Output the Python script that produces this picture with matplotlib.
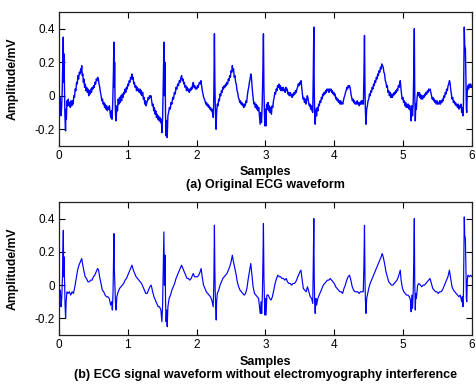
import matplotlib
matplotlib.use('Agg')
import matplotlib.pyplot as plt

plt.rcParams['font.family'] = ['Liberation Sans', 'DejaVu Sans']

# (time, amplitude) samples (noisy) trace
ecg_original = [
    (0.000, -0.03), (0.006, -0.07), (0.012, -0.01), (0.018, -0.08), (0.024, -0.04), (0.030, -0.12),
    (0.038, -0.07), (0.046, 0.02), (0.054, 0.18), (0.062, 0.35), (0.067, 0.08), (0.072, 0.25),
    (0.078, 0.10), (0.086, -0.12), (0.095, -0.21), (0.101, -0.08), (0.107, -0.14), (0.115, -0.03),
    (0.125, -0.06), (0.135, -0.02), (0.145, -0.06), (0.155, -0.04), (0.165, -0.07), (0.175, -0.03),
    (0.185, -0.06), (0.195, -0.03), (0.205, -0.05), (0.215, 0.00), (0.225, -0.01), (0.235, 0.04),
    (0.245, 0.03), (0.255, 0.08), (0.265, 0.07), (0.275, 0.12), (0.285, 0.10), (0.295, 0.14),
    (0.305, 0.13), (0.315, 0.16), (0.322, 0.14), (0.330, 0.18), (0.338, 0.12), (0.346, 0.13),
    (0.354, 0.08), (0.362, 0.10), (0.372, 0.05), (0.382, 0.07), (0.392, 0.03), (0.402, 0.05),
    (0.412, 0.02), (0.422, 0.04), (0.432, 0.00), (0.442, 0.03), (0.452, 0.01), (0.462, 0.04),
    (0.472, 0.02), (0.482, 0.05), (0.492, 0.04), (0.502, 0.06), (0.512, 0.05), (0.522, 0.08),
    (0.532, 0.07), (0.542, 0.10), (0.552, 0.09), (0.562, 0.11), (0.572, 0.10), (0.582, 0.07),
    (0.592, 0.05), (0.602, 0.02), (0.612, 0.00), (0.622, -0.03), (0.632, -0.02), (0.642, -0.05),
    (0.652, -0.04), (0.662, -0.07), (0.672, -0.05), (0.682, -0.08), (0.692, -0.06), (0.702, -0.09),
    (0.712, -0.07), (0.722, -0.08), (0.732, -0.06), (0.742, -0.10), (0.752, -0.13), (0.762, -0.09),
    (0.770, -0.14), (0.780, -0.05), (0.790, 0.12), (0.797, 0.32), (0.803, 0.05), (0.808, 0.20),
    (0.814, -0.02), (0.822, -0.12), (0.830, -0.15), (0.840, -0.06), (0.850, -0.09), (0.860, -0.02),
    (0.870, -0.05), (0.880, -0.01), (0.890, -0.04), (0.900, 0.00), (0.910, -0.03), (0.920, 0.01),
    (0.930, -0.01), (0.940, 0.02), (0.950, 0.01), (0.960, 0.04), (0.970, 0.02), (0.980, 0.05),
    (0.990, 0.04), (1.000, 0.07), (1.010, 0.06), (1.020, 0.09), (1.030, 0.08), (1.040, 0.11),
    (1.050, 0.10), (1.058, 0.13), (1.066, 0.10), (1.076, 0.11), (1.086, 0.07), (1.096, 0.08),
    (1.106, 0.05), (1.116, 0.06), (1.126, 0.03), (1.136, 0.05), (1.146, 0.03), (1.156, 0.04),
    (1.166, 0.02), (1.176, 0.04), (1.186, 0.01), (1.196, 0.03), (1.206, 0.00), (1.216, 0.02),
    (1.226, -0.02), (1.236, -0.01), (1.246, -0.05), (1.256, -0.03), (1.266, -0.06), (1.276, -0.04),
    (1.286, -0.03), (1.296, -0.01), (1.306, -0.02), (1.316, 0.00), (1.326, -0.01), (1.336, 0.00),
    (1.346, -0.03), (1.356, -0.06), (1.366, -0.05), (1.376, -0.09), (1.386, -0.07), (1.396, -0.11),
    (1.406, -0.09), (1.416, -0.13), (1.426, -0.11), (1.436, -0.14), (1.446, -0.12), (1.456, -0.15),
    (1.466, -0.13), (1.476, -0.16), (1.486, -0.14), (1.496, -0.22), (1.506, -0.12), (1.516, 0.10),
    (1.524, 0.32), (1.532, 0.00), (1.540, 0.20), (1.548, -0.12), (1.556, -0.24), (1.564, -0.15),
    (1.572, -0.25), (1.582, -0.12), (1.592, -0.10), (1.604, -0.07), (1.616, -0.08), (1.628, -0.04),
    (1.640, -0.05), (1.652, -0.01), (1.664, -0.02), (1.676, 0.02), (1.688, 0.01), (1.700, 0.05),
    (1.712, 0.04), (1.724, 0.07), (1.736, 0.06), (1.748, 0.09), (1.760, 0.08), (1.772, 0.11),
    (1.782, 0.12), (1.792, 0.09), (1.802, 0.10), (1.812, 0.07), (1.822, 0.08), (1.832, 0.05),
    (1.842, 0.06), (1.852, 0.03), (1.862, 0.05), (1.872, 0.03), (1.882, 0.04), (1.892, 0.02),
    (1.902, 0.04), (1.912, 0.03), (1.922, 0.05), (1.932, 0.04), (1.942, 0.07), (1.952, 0.08),
    (1.962, 0.05), (1.972, 0.06), (1.982, 0.04), (1.992, 0.05), (2.002, 0.04), (2.012, 0.06),
    (2.022, 0.05), (2.032, 0.07), (2.042, 0.08), (2.052, 0.07), (2.062, 0.09), (2.072, 0.06),
    (2.082, 0.03), (2.092, 0.01), (2.102, -0.01), (2.112, -0.02), (2.122, -0.03), (2.132, -0.05),
    (2.142, -0.04), (2.152, -0.06), (2.162, -0.05), (2.172, -0.07), (2.182, -0.06), (2.192, -0.08),
    (2.202, -0.07), (2.212, -0.09), (2.222, -0.08), (2.232, -0.11), (2.242, -0.13), (2.250, 0.02),
    (2.258, 0.37), (2.264, 0.10), (2.270, -0.05), (2.276, -0.13), (2.282, -0.20), (2.290, -0.10),
    (2.300, -0.05), (2.310, -0.06), (2.320, -0.02), (2.330, -0.03), (2.340, 0.01), (2.350, 0.00),
    (2.360, 0.03), (2.370, 0.02), (2.380, 0.05), (2.390, 0.04), (2.400, 0.06), (2.410, 0.05),
    (2.420, 0.07), (2.430, 0.06), (2.440, 0.08), (2.450, 0.07), (2.460, 0.10), (2.470, 0.09),
    (2.480, 0.12), (2.490, 0.11), (2.500, 0.15), (2.510, 0.14), (2.518, 0.18), (2.526, 0.15),
    (2.536, 0.16), (2.546, 0.11), (2.556, 0.12), (2.566, 0.08), (2.576, 0.07), (2.586, 0.03),
    (2.596, 0.02), (2.606, -0.01), (2.616, -0.02), (2.626, -0.04), (2.636, -0.03), (2.646, -0.05),
    (2.656, -0.04), (2.666, -0.06), (2.676, -0.05), (2.686, -0.07), (2.696, -0.05), (2.706, -0.06),
    (2.716, -0.03), (2.726, -0.04), (2.736, 0.00), (2.746, 0.03), (2.756, 0.05), (2.766, 0.08),
    (2.776, 0.10), (2.786, 0.13), (2.794, 0.12), (2.802, 0.07), (2.812, 0.02), (2.822, -0.02),
    (2.832, -0.05), (2.842, -0.04), (2.852, -0.07), (2.862, -0.05), (2.872, -0.08), (2.882, -0.06),
    (2.892, -0.09), (2.902, -0.07), (2.912, -0.12), (2.922, -0.17), (2.932, -0.10), (2.942, -0.16),
    (2.952, -0.05), (2.962, 0.15), (2.970, 0.37), (2.977, 0.05), (2.984, -0.10), (2.990, -0.18),
    (2.998, -0.08), (3.006, -0.18), (3.016, -0.05), (3.026, -0.08), (3.036, -0.04), (3.046, -0.09),
    (3.056, -0.06), (3.066, -0.10), (3.076, -0.07), (3.086, -0.11), (3.096, -0.06), (3.106, -0.07),
    (3.116, -0.03), (3.126, -0.01), (3.136, 0.02), (3.146, 0.01), (3.156, 0.04), (3.166, 0.03),
    (3.176, 0.06), (3.186, 0.05), (3.196, 0.07), (3.206, 0.04), (3.216, 0.06), (3.226, 0.03),
    (3.236, 0.05), (3.246, 0.03), (3.256, 0.05), (3.266, 0.03), (3.276, 0.04), (3.286, 0.02),
    (3.296, 0.05), (3.306, 0.03), (3.316, 0.04), (3.326, 0.01), (3.336, 0.02), (3.346, 0.00),
    (3.356, 0.02), (3.366, 0.00), (3.376, 0.01), (3.386, -0.01), (3.396, 0.01), (3.406, 0.00),
    (3.416, 0.02), (3.426, 0.01), (3.436, 0.03), (3.446, 0.02), (3.456, 0.04), (3.466, 0.05),
    (3.476, 0.07), (3.486, 0.06), (3.496, 0.08), (3.506, 0.07), (3.516, 0.09), (3.526, 0.05),
    (3.536, 0.01), (3.546, -0.02), (3.556, -0.01), (3.566, -0.04), (3.576, -0.02), (3.586, -0.05),
    (3.596, -0.03), (3.606, 0.00), (3.616, -0.01), (3.626, -0.04), (3.636, -0.06), (3.646, -0.05),
    (3.656, -0.08), (3.666, -0.06), (3.676, -0.09), (3.686, -0.10), (3.694, 0.12), (3.702, 0.41),
    (3.708, 0.05), (3.714, -0.10), (3.722, -0.17), (3.732, -0.08), (3.742, -0.12), (3.752, -0.07),
    (3.762, -0.09), (3.772, -0.05), (3.782, -0.06), (3.792, -0.03), (3.802, -0.04), (3.812, -0.01),
    (3.822, -0.02), (3.832, 0.01), (3.842, 0.00), (3.852, 0.02), (3.862, 0.01), (3.872, 0.03),
    (3.882, 0.02), (3.892, 0.04), (3.902, 0.03), (3.912, 0.04), (3.922, 0.02), (3.932, 0.04),
    (3.942, 0.03), (3.952, 0.04), (3.962, 0.02), (3.972, 0.03), (3.982, 0.01), (3.992, 0.02),
    (4.002, 0.00), (4.012, 0.01), (4.022, -0.02), (4.032, -0.01), (4.042, -0.03), (4.052, -0.02),
    (4.062, -0.04), (4.072, -0.03), (4.082, -0.05), (4.092, -0.03), (4.102, -0.05), (4.112, -0.04),
    (4.122, -0.05), (4.132, -0.03), (4.142, -0.01), (4.152, 0.00), (4.162, 0.02), (4.172, 0.03),
    (4.182, 0.05), (4.192, 0.04), (4.202, 0.06), (4.212, 0.05), (4.222, 0.06), (4.232, 0.04),
    (4.242, 0.01), (4.252, -0.01), (4.262, -0.03), (4.272, -0.02), (4.282, -0.04), (4.292, -0.03),
    (4.302, -0.05), (4.312, -0.04), (4.322, -0.05), (4.332, -0.03), (4.342, -0.05), (4.352, -0.04),
    (4.362, -0.06), (4.372, -0.04), (4.382, -0.05), (4.392, -0.03), (4.402, -0.05), (4.412, -0.03),
    (4.422, -0.05), (4.430, 0.12), (4.438, 0.36), (4.446, 0.02), (4.452, -0.10), (4.460, -0.17),
    (4.470, -0.08), (4.480, -0.06), (4.490, -0.03), (4.500, -0.02), (4.510, 0.01), (4.520, 0.00),
    (4.530, 0.03), (4.540, 0.02), (4.550, 0.05), (4.560, 0.04), (4.570, 0.07), (4.580, 0.06),
    (4.590, 0.09), (4.600, 0.08), (4.610, 0.11), (4.620, 0.10), (4.630, 0.13), (4.640, 0.12),
    (4.650, 0.15), (4.660, 0.14), (4.670, 0.17), (4.680, 0.16), (4.690, 0.19), (4.700, 0.18),
    (4.710, 0.17), (4.720, 0.14), (4.730, 0.13), (4.740, 0.09), (4.750, 0.08), (4.760, 0.05),
    (4.770, 0.06), (4.780, 0.02), (4.790, 0.03), (4.800, 0.00), (4.810, 0.02), (4.820, -0.01),
    (4.830, 0.01), (4.840, -0.01), (4.850, 0.01), (4.860, 0.00), (4.870, 0.02), (4.880, 0.01),
    (4.890, 0.03), (4.900, 0.02), (4.910, 0.04), (4.920, 0.03), (4.930, 0.06), (4.940, 0.05),
    (4.950, 0.08), (4.958, 0.09), (4.966, 0.05), (4.976, 0.01), (4.986, -0.02), (4.996, -0.01),
    (5.006, -0.04), (5.016, -0.03), (5.026, -0.06), (5.036, -0.04), (5.046, -0.07), (5.056, -0.05),
    (5.066, -0.07), (5.076, -0.05), (5.086, -0.08), (5.096, -0.06), (5.106, -0.09), (5.116, -0.15),
    (5.126, -0.06), (5.136, -0.12), (5.146, -0.04), (5.154, 0.15), (5.162, 0.40), (5.168, 0.02),
    (5.176, -0.15), (5.184, -0.05), (5.192, -0.08), (5.202, -0.01), (5.212, 0.02), (5.222, 0.00),
    (5.232, 0.02), (5.242, -0.01), (5.252, 0.01), (5.262, -0.02), (5.272, 0.00), (5.282, -0.02),
    (5.292, 0.00), (5.302, -0.01), (5.312, 0.01), (5.322, 0.00), (5.332, 0.02), (5.342, 0.01),
    (5.352, 0.03), (5.362, 0.02), (5.372, 0.04), (5.382, 0.03), (5.392, 0.04), (5.402, 0.02),
    (5.412, 0.00), (5.422, -0.02), (5.432, -0.01), (5.442, -0.03), (5.452, -0.02), (5.462, -0.04),
    (5.472, -0.03), (5.482, -0.05), (5.492, -0.03), (5.502, -0.05), (5.512, -0.04), (5.522, -0.05),
    (5.532, -0.03), (5.542, -0.05), (5.552, -0.03), (5.562, -0.04), (5.572, -0.02), (5.582, -0.03),
    (5.592, 0.00), (5.602, -0.01), (5.612, 0.02), (5.622, 0.01), (5.632, 0.04), (5.642, 0.03),
    (5.652, 0.06), (5.662, 0.07), (5.672, 0.09), (5.680, 0.08), (5.690, 0.04), (5.700, 0.01),
    (5.710, -0.02), (5.720, -0.01), (5.730, -0.04), (5.740, -0.03), (5.750, -0.05), (5.760, -0.04),
    (5.770, -0.06), (5.780, -0.05), (5.790, -0.07), (5.800, -0.05), (5.810, -0.08), (5.820, -0.06),
    (5.830, -0.07), (5.840, -0.05), (5.850, -0.10), (5.860, -0.07), (5.868, -0.12), (5.876, -0.05),
    (5.882, 0.20), (5.888, 0.41), (5.894, 0.30), (5.904, 0.28), (5.912, 0.10), (5.918, -0.08),
    (5.924, -0.10), (5.932, 0.03), (5.940, 0.06), (5.950, 0.04), (5.960, 0.07), (5.970, 0.05),
    (5.980, 0.07), (5.990, 0.05), (6.000, 0.06),
]

# (time, amplitude) samples
ecg_filtered = [
    (0.000, -0.03), (0.010, -0.06), (0.020, -0.03), (0.030, -0.13), (0.040, -0.08), (0.050, 0.05),
    (0.056, 0.20), (0.063, 0.33), (0.068, 0.05), (0.073, 0.17), (0.080, 0.02), (0.088, -0.12),
    (0.096, -0.20), (0.104, -0.10), (0.115, -0.04), (0.13, -0.05), (0.15, -0.04), (0.17, -0.06),
    (0.19, -0.04), (0.21, -0.05), (0.23, -0.01), (0.25, 0.04), (0.27, 0.09), (0.29, 0.12),
    (0.31, 0.14), (0.33, 0.16), (0.345, 0.12), (0.36, 0.09), (0.38, 0.05), (0.40, 0.04),
    (0.42, 0.02), (0.44, 0.02), (0.46, 0.03), (0.48, 0.03), (0.50, 0.05), (0.52, 0.06),
    (0.54, 0.08), (0.56, 0.10), (0.575, 0.09), (0.59, 0.05), (0.61, 0.01), (0.63, -0.03),
    (0.65, -0.04), (0.67, -0.06), (0.69, -0.07), (0.71, -0.07), (0.73, -0.08), (0.75, -0.12),
    (0.765, -0.10), (0.775, -0.15), (0.785, -0.05), (0.792, 0.15), (0.798, 0.31), (0.804, 0.10),
    (0.810, 0.02), (0.820, -0.10), (0.830, -0.15), (0.84, -0.07), (0.86, -0.04), (0.88, -0.02),
    (0.90, -0.01), (0.92, 0.00), (0.94, 0.01), (0.96, 0.03), (0.98, 0.04), (1.00, 0.06),
    (1.02, 0.08), (1.04, 0.10), (1.06, 0.12), (1.08, 0.09), (1.10, 0.07), (1.12, 0.05),
    (1.14, 0.04), (1.16, 0.03), (1.18, 0.02), (1.20, 0.01), (1.22, -0.01), (1.24, -0.03),
    (1.26, -0.05), (1.28, -0.05), (1.30, -0.03), (1.32, -0.01), (1.34, 0.00), (1.36, -0.04),
    (1.38, -0.07), (1.40, -0.09), (1.42, -0.11), (1.44, -0.13), (1.46, -0.13), (1.48, -0.15),
    (1.495, -0.22), (1.505, -0.12), (1.515, 0.10), (1.524, 0.32), (1.532, 0.00), (1.540, 0.18),
    (1.548, -0.10), (1.556, -0.22), (1.564, -0.15), (1.572, -0.25), (1.582, -0.13), (1.60, -0.08),
    (1.62, -0.06), (1.64, -0.03), (1.66, -0.01), (1.68, 0.01), (1.70, 0.04), (1.72, 0.06),
    (1.74, 0.08), (1.76, 0.10), (1.78, 0.12), (1.80, 0.10), (1.82, 0.08), (1.84, 0.06),
    (1.86, 0.04), (1.88, 0.04), (1.90, 0.03), (1.92, 0.04), (1.94, 0.06), (1.95, 0.07),
    (1.97, 0.05), (1.99, 0.05), (2.01, 0.05), (2.03, 0.06), (2.05, 0.08), (2.065, 0.10),
    (2.08, 0.05), (2.10, 0.00), (2.12, -0.02), (2.14, -0.04), (2.16, -0.05), (2.18, -0.06),
    (2.20, -0.07), (2.22, -0.09), (2.24, -0.13), (2.250, 0.02), (2.258, 0.36), (2.264, 0.10),
    (2.270, -0.05), (2.278, -0.14), (2.284, -0.21), (2.29, -0.10), (2.30, -0.05), (2.32, -0.03),
    (2.34, 0.00), (2.36, 0.02), (2.38, 0.04), (2.40, 0.05), (2.42, 0.06), (2.44, 0.07),
    (2.46, 0.09), (2.48, 0.11), (2.50, 0.14), (2.518, 0.18), (2.53, 0.15), (2.55, 0.11),
    (2.57, 0.07), (2.59, 0.02), (2.61, -0.01), (2.63, -0.03), (2.65, -0.04), (2.67, -0.05),
    (2.69, -0.06), (2.71, -0.05), (2.73, -0.02), (2.75, 0.04), (2.77, 0.09), (2.786, 0.13),
    (2.80, 0.07), (2.82, -0.01), (2.84, -0.05), (2.86, -0.06), (2.88, -0.07), (2.90, -0.08),
    (2.915, -0.14), (2.925, -0.17), (2.935, -0.10), (2.945, -0.17), (2.955, -0.05), (2.963, 0.15),
    (2.970, 0.37), (2.977, 0.05), (2.985, -0.10), (2.992, -0.18), (3.000, -0.08), (3.008, -0.18),
    (3.02, -0.06), (3.04, -0.06), (3.06, -0.08), (3.08, -0.09), (3.10, -0.07), (3.12, -0.03),
    (3.14, 0.01), (3.16, 0.04), (3.18, 0.06), (3.20, 0.05), (3.22, 0.05), (3.24, 0.04),
    (3.26, 0.04), (3.28, 0.03), (3.30, 0.04), (3.32, 0.02), (3.34, 0.01), (3.36, 0.01),
    (3.38, 0.00), (3.40, 0.01), (3.42, 0.01), (3.44, 0.02), (3.46, 0.04), (3.48, 0.06),
    (3.50, 0.08), (3.515, 0.09), (3.53, 0.04), (3.55, -0.02), (3.57, -0.03), (3.59, -0.04),
    (3.61, -0.01), (3.63, -0.04), (3.65, -0.07), (3.67, -0.08), (3.686, -0.11), (3.694, 0.12),
    (3.702, 0.40), (3.708, 0.05), (3.714, -0.10), (3.722, -0.17), (3.732, -0.08), (3.742, -0.12),
    (3.76, -0.08), (3.78, -0.06), (3.80, -0.04), (3.82, -0.02), (3.84, 0.00), (3.86, 0.01),
    (3.88, 0.02), (3.90, 0.03), (3.92, 0.03), (3.94, 0.04), (3.96, 0.03), (3.98, 0.02),
    (4.00, 0.01), (4.02, -0.01), (4.04, -0.02), (4.06, -0.03), (4.08, -0.04), (4.10, -0.04),
    (4.12, -0.05), (4.14, -0.02), (4.16, 0.00), (4.18, 0.03), (4.20, 0.05), (4.22, 0.06),
    (4.24, 0.03), (4.26, -0.01), (4.28, -0.03), (4.30, -0.04), (4.32, -0.04), (4.34, -0.04),
    (4.36, -0.05), (4.38, -0.04), (4.40, -0.04), (4.42, -0.04), (4.430, 0.12), (4.438, 0.36),
    (4.446, 0.02), (4.452, -0.10), (4.460, -0.17), (4.47, -0.08), (4.48, -0.06), (4.50, -0.02),
    (4.52, 0.01), (4.54, 0.03), (4.56, 0.05), (4.58, 0.07), (4.60, 0.09), (4.62, 0.11),
    (4.64, 0.13), (4.66, 0.15), (4.68, 0.17), (4.695, 0.19), (4.71, 0.17), (4.73, 0.13),
    (4.75, 0.08), (4.77, 0.05), (4.79, 0.02), (4.81, 0.01), (4.83, 0.00), (4.85, 0.00),
    (4.87, 0.01), (4.89, 0.02), (4.91, 0.03), (4.93, 0.05), (4.95, 0.08), (4.958, 0.09),
    (4.97, 0.03), (4.99, -0.02), (5.01, -0.04), (5.03, -0.05), (5.05, -0.06), (5.07, -0.06),
    (5.09, -0.07), (5.106, -0.09), (5.116, -0.16), (5.126, -0.06), (5.136, -0.14), (5.146, -0.04),
    (5.154, 0.15), (5.162, 0.40), (5.168, 0.02), (5.176, -0.15), (5.184, -0.05), (5.192, -0.08),
    (5.21, 0.00), (5.23, 0.01), (5.25, 0.00), (5.27, -0.01), (5.29, 0.00), (5.31, 0.00),
    (5.33, 0.01), (5.35, 0.02), (5.37, 0.03), (5.39, 0.04), (5.41, 0.01), (5.43, -0.02),
    (5.45, -0.03), (5.47, -0.04), (5.49, -0.04), (5.51, -0.05), (5.53, -0.04), (5.55, -0.04),
    (5.57, -0.03), (5.59, -0.01), (5.61, 0.01), (5.63, 0.03), (5.65, 0.05), (5.672, 0.09),
    (5.69, 0.04), (5.71, -0.01), (5.73, -0.03), (5.75, -0.04), (5.77, -0.05), (5.79, -0.06),
    (5.81, -0.07), (5.83, -0.06), (5.85, -0.10), (5.860, -0.07), (5.868, -0.13), (5.876, -0.05),
    (5.882, 0.20), (5.888, 0.41), (5.894, 0.30), (5.904, 0.28), (5.912, 0.10), (5.918, -0.08),
    (5.924, -0.10), (5.932, 0.03), (5.94, 0.06), (5.96, 0.05), (5.98, 0.06), (6.00, 0.05),
]

x_ticks = [0, 1, 2, 3, 4, 5, 6]
y_ticks = [-0.2, 0, 0.2, 0.4]
y_tick_labels = ['-0.2', '0', '0.2', '0.4']
captions = ['(a) Original ECG waveform',
            '(b) ECG signal waveform without electromyography interference']

W, H = 477, 385
fig = plt.figure(figsize=(W / 100, H / 100), dpi=100)

# axes boxes in pixels: (left, top, right, bottom)
boxes = [(59, 12, 472, 146), (59, 202, 472, 335)]
samples_y = [172, 362.5]
caption_y = [185, 375]
series = [(ecg_original, 1.0), (ecg_filtered, 0.85)]

for i in range(2):
    l, t, r, b = boxes[i]
    ax = fig.add_axes([l / W, 1 - b / H, (r - l) / W, (b - t) / H])
    data, lw = series[i]
    ax.plot([p[0] for p in data], [p[1] for p in data], color='#0000ff', linewidth=lw)
    ax.set_xlim(0, 6)
    ax.set_ylim(-0.3, 0.5)
    ax.set_xticks(x_ticks)
    ax.set_xticklabels([str(x) for x in x_ticks])
    ax.set_yticks(y_ticks)
    ax.set_yticklabels(y_tick_labels)
    ax.tick_params(direction='in', top=True, right=True, length=4, width=0.8,
                   labelsize=8.5, colors='k', pad=3)
    for s in ax.spines.values():
        s.set_linewidth(0.9)
        s.set_color('#222222')
    ax.set_ylabel('Amplitude/mV', fontsize=8.8, fontweight='bold')
    ax.yaxis.set_label_coords(-0.097, 0.5)

    cx = (l + r) / 2 / W
    fig.text(cx, 1 - samples_y[i] / H, 'Samples', ha='center', va='center',
             fontsize=9, fontweight='bold')
    fig.text(cx, 1 - caption_y[i] / H, captions[i], ha='center', va='center',
             fontsize=9, fontweight='bold')

fig.savefig('out.png', dpi=100)
